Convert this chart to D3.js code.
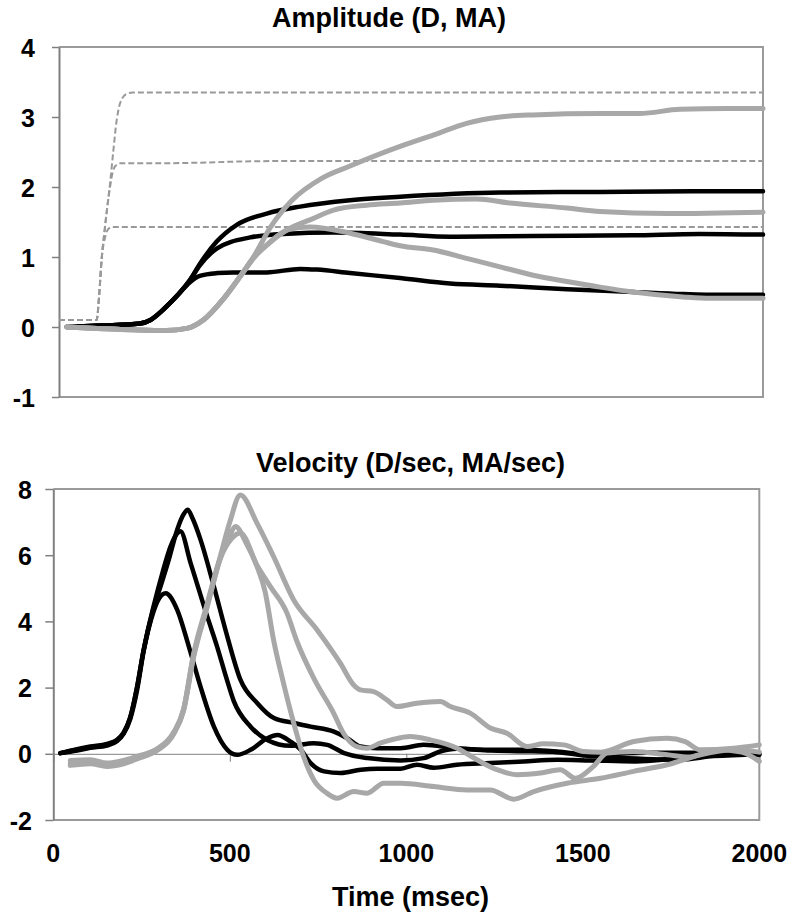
<!DOCTYPE html>
<html>
<head>
<meta charset="utf-8">
<script src="https://cdn.jsdelivr.net/npm/d3@7"></script>
<style>
  html, body { margin: 0; padding: 0; background: #fff; }
  svg { display: block; }
  text { font-family: "Liberation Sans", Arial, sans-serif; font-weight: bold; fill: #000; }
</style>
</head>
<body>
<svg id="chart" width="800" height="922"></svg>
<script>
// ---------------- DATA ----------------
const ampTitle = "Amplitude (D, MA)";
const velTitle = "Velocity (D/sec, MA/sec)";
const xTitle = "Time (msec)";
const xTicks = [0, 500, 1000, 1500, 2000];
const ampTicks = [-1, 0, 1, 2, 3, 4];
const velTicks = [-2, 0, 2, 4, 6, 8];

// Amplitude: target steps (dashed)
const ampDashLow  = [[0,0.1],[107,0.1],[114,0.45],[121,0.96],[132,1.3],[140,1.4],[152,1.43],[400,1.43],[1000,1.43],[2000,1.43]];
const ampDashMid  = [[0,0.1],[107,0.1],[114,0.45],[121,0.96],[130,1.4],[138,1.75],[145,2.0],[152,2.2],[160,2.3],[175,2.34],[300,2.34],[600,2.37],[2000,2.37]];
const ampDashHigh = [[0,0.1],[107,0.1],[114,0.45],[121,0.96],[130,1.4],[138,1.75],[145,2.05],[154,2.5],[164,2.96],[172,3.17],[180,3.27],[192,3.33],[210,3.35],[2000,3.35]];

// Amplitude: black responses
const ampB1 = [[22,0],[120,0.02],[230,0.05],[260,0.1],[290,0.22],[315,0.34],[345,0.5],[372,0.67],[400,0.9],[448,1.22],[505,1.46],[590,1.62],[685,1.72],[827,1.81],[969,1.86],[1253,1.92],[1537,1.93],[1821,1.94],[2000,1.94]];
const ampB2 = [[22,0],[120,0.02],[230,0.05],[260,0.1],[290,0.22],[315,0.34],[345,0.5],[372,0.67],[400,0.88],[448,1.12],[543,1.28],[637,1.33],[780,1.35],[969,1.32],[1111,1.29],[1347,1.3],[1631,1.31],[1821,1.33],[2000,1.32]];
const ampB3 = [[22,0],[120,0.02],[230,0.05],[260,0.1],[290,0.22],[315,0.34],[345,0.5],[372,0.64],[400,0.73],[450,0.77],[495,0.78],[590,0.78],[685,0.83],[733,0.82],[827,0.77],[969,0.7],[1111,0.62],[1253,0.59],[1443,0.54],[1631,0.5],[1773,0.47],[1850,0.46],[2000,0.46]];

// Amplitude: gray responses
const ampG1 = [[22,0],[211,-0.04],[306,-0.05],[363,-0.02],[410,0.1],[470,0.42],[520,0.76],[555,1.02],[600,1.42],[660,1.8],[745,2.12],[827,2.3],[969,2.58],[1063,2.74],[1158,2.91],[1253,3.0],[1347,3.03],[1537,3.05],[1650,3.05],[1764,3.11],[1900,3.12],[2000,3.12]];
const ampG2 = [[22,0],[211,-0.04],[306,-0.05],[363,-0.02],[410,0.1],[470,0.42],[520,0.76],[555,1.0],[590,1.17],[656,1.41],[713,1.53],[780,1.67],[874,1.74],[969,1.77],[1063,1.81],[1186,1.83],[1281,1.77],[1443,1.7],[1537,1.65],[1727,1.62],[2000,1.64]];
const ampG3 = [[22,0],[211,-0.04],[306,-0.05],[363,-0.02],[410,0.1],[470,0.42],[520,0.76],[555,1.0],[590,1.17],[656,1.4],[713,1.43],[827,1.34],[921,1.22],[969,1.16],[1063,1.1],[1158,0.98],[1253,0.86],[1347,0.74],[1443,0.65],[1537,0.57],[1631,0.5],[1773,0.43],[1850,0.41],[2000,0.41]];

// Velocity: black
const velB1 = [[20,0.02],[58,0.1],[105,0.2],[152,0.28],[180,0.4],[199,0.62],[218,1.1],[237,2.0],[256,3.14],[284,4.4],[305,5.1],[327,5.86],[351,6.77],[370,7.25],[381,7.37],[395,7.1],[417,6.47],[455,5.05],[493,3.54],[530,2.24],[578,1.53],[625,1.08],[682,0.93],[729,0.82],[795,0.67],[833,0.47],[870,0.22],[918,0.17],[984,0.17],[1049,0.27],[1143,0.17],[1238,0.12],[1332,0.12],[1427,0.07],[1521,-0.03],[1682,0.03],[1871,0.03],[2000,-0.03]];
const velB2 = [[20,0.02],[58,0.12],[105,0.22],[152,0.3],[180,0.42],[199,0.64],[218,1.1],[237,2.0],[256,3.14],[284,4.45],[310,5.5],[332,6.26],[350,6.65],[360,6.72],[389,5.76],[436,4.15],[464,3.24],[490,2.3],[511,1.6],[559,0.82],[606,0.42],[672,0.24],[738,0.32],[776,0.27],[824,0.02],[890,-0.13],[984,-0.2],[1049,-0.13],[1096,0.07],[1143,0.15],[1238,0.1],[1332,0.08],[1427,0.05],[1521,-0.07],[1600,-0.12],[1776,-0.18],[1871,-0.07],[2000,-0.02]];
const velB3 = [[20,0.02],[58,0.08],[105,0.18],[152,0.25],[180,0.38],[199,0.6],[218,1.05],[237,1.9],[256,3.1],[284,4.3],[300,4.7],[318,4.85],[351,4.35],[384,3.24],[417,2.03],[455,0.82],[493,0.12],[521,-0.03],[559,0.12],[606,0.47],[635,0.57],[672,0.37],[701,0.12],[729,-0.28],[767,-0.53],[814,-0.58],[871,-0.48],[918,-0.45],[984,-0.45],[1030,-0.33],[1078,-0.42],[1143,-0.33],[1238,-0.28],[1332,-0.23],[1427,-0.18],[1521,-0.2],[1650,-0.23],[1776,-0.12],[1871,0],[2000,0]];

// Velocity: gray
const velG1 = [[48,-0.28],[105,-0.23],[152,-0.33],[199,-0.23],[246,-0.1],[294,0.12],[341,0.62],[369,1.33],[397,2.94],[435,4.45],[473,5.96],[500,7.0],[530,7.82],[577,6.97],[624,5.96],[681,4.65],[747,3.75],[813,2.74],[851,2.08],[870,1.93],[907,1.88],[945,1.63],[973,1.43],[1030,1.53],[1096,1.58],[1125,1.43],[1181,1.23],[1238,0.78],[1285,0.62],[1342,0.22],[1389,0.3],[1446,0.27],[1502,0.07],[1550,0.05],[1644,0.37],[1739,0.47],[1790,0.37],[1833,0.12],[1927,0.17],[2000,0.27]];
const velG2 = [[48,-0.35],[105,-0.3],[152,-0.38],[199,-0.3],[246,-0.12],[294,0.1],[341,0.6],[369,1.3],[397,2.9],[435,4.4],[473,5.9],[500,6.6],[516,6.87],[545,6.4],[577,5.66],[600,4.9],[624,3.44],[652,2.14],[681,0.93],[709,-0.08],[738,-0.79],[775,-1.19],[804,-1.34],[851,-1.14],[889,-1.19],[936,-0.89],[983,-0.89],[1078,-0.99],[1172,-1.09],[1238,-1.09],[1304,-1.37],[1361,-1.14],[1455,-0.89],[1550,-0.74],[1644,-0.53],[1739,-0.33],[1833,-0.03],[1927,0.12],[2000,0.05]];
const velG3 = [[48,-0.2],[105,-0.18],[152,-0.28],[199,-0.2],[246,-0.05],[294,0.15],[341,0.65],[369,1.35],[397,3.0],[435,4.5],[473,5.9],[505,6.5],[530,6.67],[577,5.7],[615,5.05],[662,4.25],[690,3.4],[740,2.24],[794,1.23],[822,0.62],[860,0.22],[889,0.17],[926,0.32],[964,0.44],[1011,0.52],[1068,0.42],[1144,0.17],[1200,-0.18],[1257,-0.48],[1314,-0.63],[1380,-0.58],[1436,-0.48],[1479,-0.74],[1530,-0.38],[1569,0.02],[1644,0.07],[1739,-0.03],[1800,-0.1],[1880,0.12],[1950,0.05],[2000,-0.23]];

// ---------------- DRAWING ----------------
const svg = d3.select("#chart");
const BORDER = "#9a9a9a", AXIS = "#808080", GRAY = "#a8a8a8";

function panel(cfg) {
  const x = d3.scaleLinear().domain([0, 2000]).range([cfg.left, cfg.right]);
  const y = d3.scaleLinear().domain(cfg.yDomain).range([cfg.bottom, cfg.top]);
  const g = svg.append("g");

  g.append("path")
    .attr("d", `M${cfg.left},${cfg.top}H${cfg.right}V${cfg.bottom}H${cfg.left}`)
    .attr("fill", "none").attr("stroke", BORDER).attr("stroke-width", 2);

  if (cfg.zeroAxis) {
    const xa = d3.axisBottom(x).tickValues(xTicks).tickSize(8).tickFormat("");
    const ga = g.append("g").attr("transform", `translate(0,${y(0)})`).call(xa);
    ga.select(".domain").attr("stroke", AXIS).attr("stroke-width", 1);
    ga.selectAll(".tick line").attr("stroke", AXIS).attr("stroke-width", 1);
  }

  const ya = d3.axisLeft(y).tickValues(cfg.yTicks).tickSize(cfg.tickLen).tickSizeOuter(0).tickFormat(d => String(d));
  const gy = g.append("g").attr("transform", `translate(${cfg.left},0)`).call(ya);
  gy.select(".domain").attr("stroke", AXIS).attr("stroke-width", 2);
  gy.selectAll(".tick line").attr("stroke", AXIS).attr("stroke-width", 1.5);
  gy.selectAll(".tick text")
    .attr("x", -(cfg.left - cfg.labelRight))
    .attr("dy", "0.36em")
    .style("font-family", '"Liberation Sans", Arial, sans-serif')
    .style("font-weight", "bold")
    .style("font-size", cfg.yFont + "px")
    .attr("fill", "#000");

  const line = d3.line().x(d => x(d[0])).y(d => y(d[1])).curve(d3.curveMonotoneX);

  (cfg.dashed || []).forEach(s => g.append("path").attr("d", line(s))
    .attr("fill", "none").attr("stroke", "#999").attr("stroke-width", 2)
    .attr("stroke-dasharray", "6,3"));
  cfg.black.forEach(s => g.append("path").attr("d", line(s))
    .attr("fill", "none").attr("stroke", "#000").attr("stroke-width", 4.5)
    .attr("stroke-linejoin", "round").attr("stroke-linecap", "round"));
  cfg.gray.forEach(s => g.append("path").attr("d", line(s))
    .attr("fill", "none").attr("stroke", GRAY).attr("stroke-width", 5)
    .attr("stroke-linejoin", "round").attr("stroke-linecap", "round"));

  g.append("text").attr("x", cfg.titleX).attr("y", cfg.titleY)
    .attr("text-anchor", "middle").style("font-size", "27px").text(cfg.title);
  return { x, y, g };
}

panel({
  left: 59, right: 763, top: 47, bottom: 397, yDomain: [-1, 4], yTicks: ampTicks,
  tickLen: 7, labelRight: 35, yFont: 25,
  dashed: [ampDashLow, ampDashMid, ampDashHigh],
  black: [ampB1, ampB2, ampB3], gray: [ampG1, ampG2, ampG3],
  title: ampTitle, titleX: 389, titleY: 27
});

const vp = panel({
  left: 53.3, right: 759.3, top: 489, bottom: 820, yDomain: [-2, 8], yTicks: velTicks,
  tickLen: 8, labelRight: 32, yFont: 25, zeroAxis: true,
  black: [velB1, velB2, velB3], gray: [velG1, velG2, velG3],
  title: velTitle, titleX: 410.5, titleY: 472
});

vp.g.selectAll("text.xl").data(xTicks).enter().append("text")
  .attr("class", "xl")
  .attr("x", d => vp.x(d)).attr("y", 862)
  .attr("text-anchor", "middle").style("font-size", "25px")
  .text(d => d);

svg.append("text").attr("x", 410.5).attr("y", 906)
  .attr("text-anchor", "middle").style("font-size", "27px").text(xTitle);
</script>
</body>
</html>
